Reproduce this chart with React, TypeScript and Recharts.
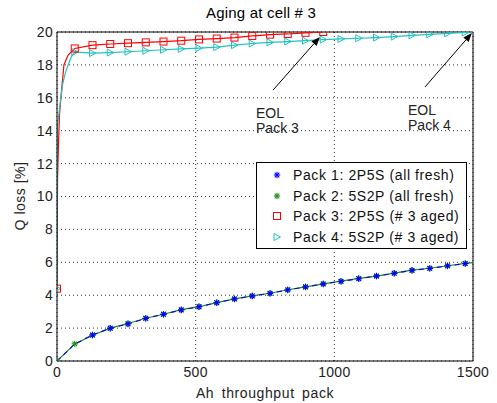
import {
  ComposedChart,
  Line,
  Scatter,
  XAxis,
  YAxis,
  CartesianGrid,
  ReferenceLine,
  Legend,
} from "recharts";

const FONT = "'Liberation Sans', Arial, Helvetica, sans-serif";

// Ah throughput where markers sit (fresh packs)
const freshAh = [
  0, 64, 128, 192, 256, 320, 384, 448, 512, 576, 640, 704, 768, 832, 896, 960,
  1024, 1088, 1152, 1216, 1280, 1344, 1408, 1472, 1500,
];
const pack1Loss = [
  0, 1.03, 1.58, 1.99, 2.25, 2.59, 2.84, 3.1, 3.3, 3.54, 3.77, 3.95, 4.11, 4.32,
  4.5, 4.68, 4.84, 5.0, 5.17, 5.33, 5.51, 5.63, 5.78, 5.92, 5.98,
];
const pack2Loss = [
  0, 1.04, 1.57, 2.0, 2.28, 2.6, 2.84, 3.12, 3.3, 3.55, 3.78, 3.96, 4.12, 4.33,
  4.51, 4.69, 4.85, 5.02, 5.16, 5.34, 5.52, 5.64, 5.79, 5.93, 5.98,
];

// aged packs: steep start then flat near 19-20 %
const pack3Ah = [
  0, 2, 5, 9, 14, 25, 40, 64, 128, 192, 256, 320, 384, 448, 512, 576, 640, 704,
  768, 832, 896, 960,
];
const pack3Loss = [
  4.4, 11.1, 13, 15, 16, 18, 18.6, 19.0, 19.2, 19.27, 19.32, 19.37, 19.42,
  19.47, 19.55, 19.6, 19.66, 19.76, 19.84, 19.88, 19.95, 20.0,
];
const pack4Ah = [
  0, 1, 11, 20, 30, 40, 52, 64, 128, 192, 256, 320, 384, 448, 512, 576, 640,
  704, 768, 832, 896, 960, 1024, 1088, 1152, 1216, 1280, 1344, 1408, 1472, 1500,
];
const pack4Loss = [
  4.4, 14.2, 15.6, 16.8, 17.5, 18.0, 18.5, 18.78, 18.72, 18.75, 18.8, 18.86,
  18.92, 18.97, 19.02, 19.08, 19.2, 19.3, 19.37, 19.42, 19.47, 19.54, 19.58,
  19.62, 19.66, 19.72, 19.8, 19.86, 19.92, 19.97, 20.0,
];
const markerAh = [
  0, 64, 128, 192, 256, 320, 384, 448, 512, 576, 640, 704, 768, 832, 896, 960,
  1024, 1088, 1152, 1216, 1280, 1344, 1408, 1472,
];

const xTicks = [0, 500, 1000, 1500];
const yTicks = [0, 2, 4, 6, 8, 10, 12, 14, 16, 18, 20];

const eolNotes = [
  { label: "Pack 3", from: { x: 779, y: 16.47 }, to: { x: 948, y: 19.7 } },
  { label: "Pack 4", from: { x: 1327, y: 16.66 }, to: { x: 1496, y: 19.94 } },
];

const legendItems = [
  { name: "Pack 1: 2P5S (all fresh)", color: "#0000ff", kind: "star" },
  { name: "Pack 2: 5S2P (all fresh)", color: "#1a8c1a", kind: "star" },
  { name: "Pack 3: 2P5S (# 3 aged)", color: "#ff0000", kind: "square" },
  { name: "Pack 4: 5S2P (# 3 aged)", color: "#22c0c0", kind: "tri" },
];

const toRows = (xs: number[], ys: number[]) => xs.map((x, i) => ({ x, q: ys[i] }));
const onlyMarks = (rows: { x: number; q: number }[]) =>
  rows.filter((r) => markerAh.includes(r.x));

const pack1 = toRows(freshAh, pack1Loss);
const pack2 = toRows(freshAh, pack2Loss);
const pack3 = toRows(pack3Ah, pack3Loss);
const pack4 = toRows(pack4Ah, pack4Loss);

function Marker({ cx, cy, color, kind }: any) {
  if (cx == null || cy == null) return null;
  if (kind === "square") {
    return <rect x={cx - 3.5} y={cy - 3.5} width={7} height={7} fill="none" stroke={color} strokeWidth={1} />;
  }
  if (kind === "tri") {
    return (
      <polygon
        points={`${cx - 3},${cy - 3.5} ${cx - 3},${cy + 3.5} ${cx + 3.5},${cy}`}
        fill="none"
        stroke={color}
        strokeWidth={1}
      />
    );
  }
  const r = 3.2;
  const d = 2.3;
  return (
    <g stroke={color} strokeWidth={1.1}>
      <line x1={cx - r} y1={cy} x2={cx + r} y2={cy} />
      <line x1={cx} y1={cy - r} x2={cx} y2={cy + r} />
      <line x1={cx - d} y1={cy - d} x2={cx + d} y2={cy + d} />
      <line x1={cx - d} y1={cy + d} x2={cx + d} y2={cy - d} />
    </g>
  );
}

function EolArrow(props: any) {
  const { x1, y1, x2, y2, label } = props;
  const ang = Math.atan2(y2 - y1, x2 - x1);
  const len = 9;
  const w = 3.5;
  const bx = x2 - len * Math.cos(ang);
  const by = y2 - len * Math.sin(ang);
  const px = -Math.sin(ang) * w;
  const py = Math.cos(ang) * w;
  return (
    <g>
      <line x1={x1} y1={y1} x2={bx} y2={by} stroke="#000" strokeWidth={1} />
      <polygon points={`${x2},${y2} ${bx + px},${by + py} ${bx - px},${by - py}`} fill="#000" />
      <text x={x1 - 17} y={y1 + 28} fontSize={14} fontFamily={FONT} fill="#222">
        EOL
      </text>
      <text x={x1 - 17} y={y1 + 43} fontSize={14} fontFamily={FONT} fill="#222">
        {label}
      </text>
    </g>
  );
}

function LegendBox() {
  return (
    <div
      style={{
        border: "1px solid #000",
        background: "#fff",
        width: 209,
        height: 83,
        boxSizing: "content-box",
        paddingTop: 2,
      }}
    >
      {legendItems.map((it) => (
        <div key={it.name} style={{ display: "flex", alignItems: "center", height: 20.5 }}>
          <svg width={36} height={14}>
            <Marker cx={20} cy={7} color={it.color} kind={it.kind} />
          </svg>
          <span
            style={{
              fontFamily: FONT,
              fontSize: 14,
              letterSpacing: 0.6,
              color: "#111",
              whiteSpace: "nowrap",
            }}
          >
            {it.name}
          </span>
        </div>
      ))}
    </div>
  );
}

export default function App() {
  return (
    <div style={{ position: "absolute", left: 0, top: 0, width: 497, height: 403, background: "#fff" }}>
      <div
        style={{
          position: "absolute",
          left: 0,
          width: 522,
          top: 4,
          textAlign: "center",
          fontFamily: FONT,
          fontSize: 15,
          letterSpacing: 0.2,
          color: "#000",
        }}
      >
        Aging at cell # 3
      </div>
      <ComposedChart width={497} height={403} margin={{ top: 32, right: 24, left: 0, bottom: 0 }}>
        <CartesianGrid stroke="#000" strokeDasharray="1 3" strokeWidth={0.8} />
        <XAxis
          type="number"
          dataKey="x"
          domain={[0, 1500]}
          ticks={xTicks}
          height={42}
          allowDataOverflow
          axisLine={{ stroke: "#000" }}
          tickLine={false}
          tickSize={4}
          tickMargin={2}
          tick={{ fontSize: 14, fill: "#222", fontFamily: FONT, letterSpacing: 0.3 }}
          label={{
            value: "Ah throughput pack",
            position: "insideBottom",
            offset: 5,
            fontSize: 14,
            fill: "#222",
            fontFamily: FONT,
            letterSpacing: 0.6,
            wordSpacing: 3,
          }}
        />
        <YAxis
          type="number"
          domain={[0, 20]}
          ticks={yTicks}
          width={57}
          allowDataOverflow
          axisLine={{ stroke: "#000" }}
          tickLine={false}
          tickSize={4}
          tickMargin={0}
          tick={{ fontSize: 14, fill: "#222", fontFamily: FONT, letterSpacing: 0.3 }}
          label={{
            content: () => (
              <text
                x={20}
                y={196}
                transform="rotate(-90 20 196)"
                textAnchor="middle"
                dominantBaseline="central"
                fontSize={14}
                fontFamily={FONT}
                letterSpacing={0.5}
                fill="#222"
              >
                Q loss [%]
              </text>
            ),
          }}
        />
        <ReferenceLine y={20} stroke="#000" />
        <ReferenceLine x={1500} stroke="#000" />

        <Line data={pack3} dataKey="q" stroke="#ff0000" strokeWidth={1.2} dot={false} isAnimationActive={false} legendType="none" />
        <Line data={pack4} dataKey="q" stroke="#22c0c0" strokeWidth={1.2} dot={false} isAnimationActive={false} legendType="none" />
        <Line data={pack2} dataKey="q" stroke="#1a8c1a" strokeWidth={1.2} dot={false} isAnimationActive={false} legendType="none" />
        <Line
          data={pack1}
          dataKey="q"
          stroke="#0000ff"
          strokeWidth={1.1}
          strokeDasharray="5 4"
          dot={false}
          isAnimationActive={false}
          legendType="none"
        />
        <Scatter data={onlyMarks(pack2)} dataKey="q" isAnimationActive={false} shape={(p: any) => <Marker {...p} color="#1a8c1a" kind="star" />} />
        <Scatter data={onlyMarks(pack1).slice(2)} dataKey="q" isAnimationActive={false} shape={(p: any) => <Marker {...p} color="#0000ff" kind="star" />} />
        <Scatter data={onlyMarks(pack4)} dataKey="q" isAnimationActive={false} shape={(p: any) => <Marker {...p} color="#22c0c0" kind="tri" />} />
        <Scatter data={onlyMarks(pack3)} dataKey="q" isAnimationActive={false} shape={(p: any) => <Marker {...p} color="#ff0000" kind="square" />} />

        {eolNotes.map((n) => (
          <ReferenceLine
            key={n.label}
            segment={[n.from, n.to]}
            ifOverflow="visible"
            shape={(p: any) => <EolArrow {...p} label={n.label} />}
          />
        ))}
        <Legend
          layout="horizontal"
          verticalAlign="middle"
          align="center"
          wrapperStyle={{ left: 256, top: 162, width: 211, height: 85 }}
          content={() => <LegendBox />}
        />
      </ComposedChart>
    </div>
  );
}
